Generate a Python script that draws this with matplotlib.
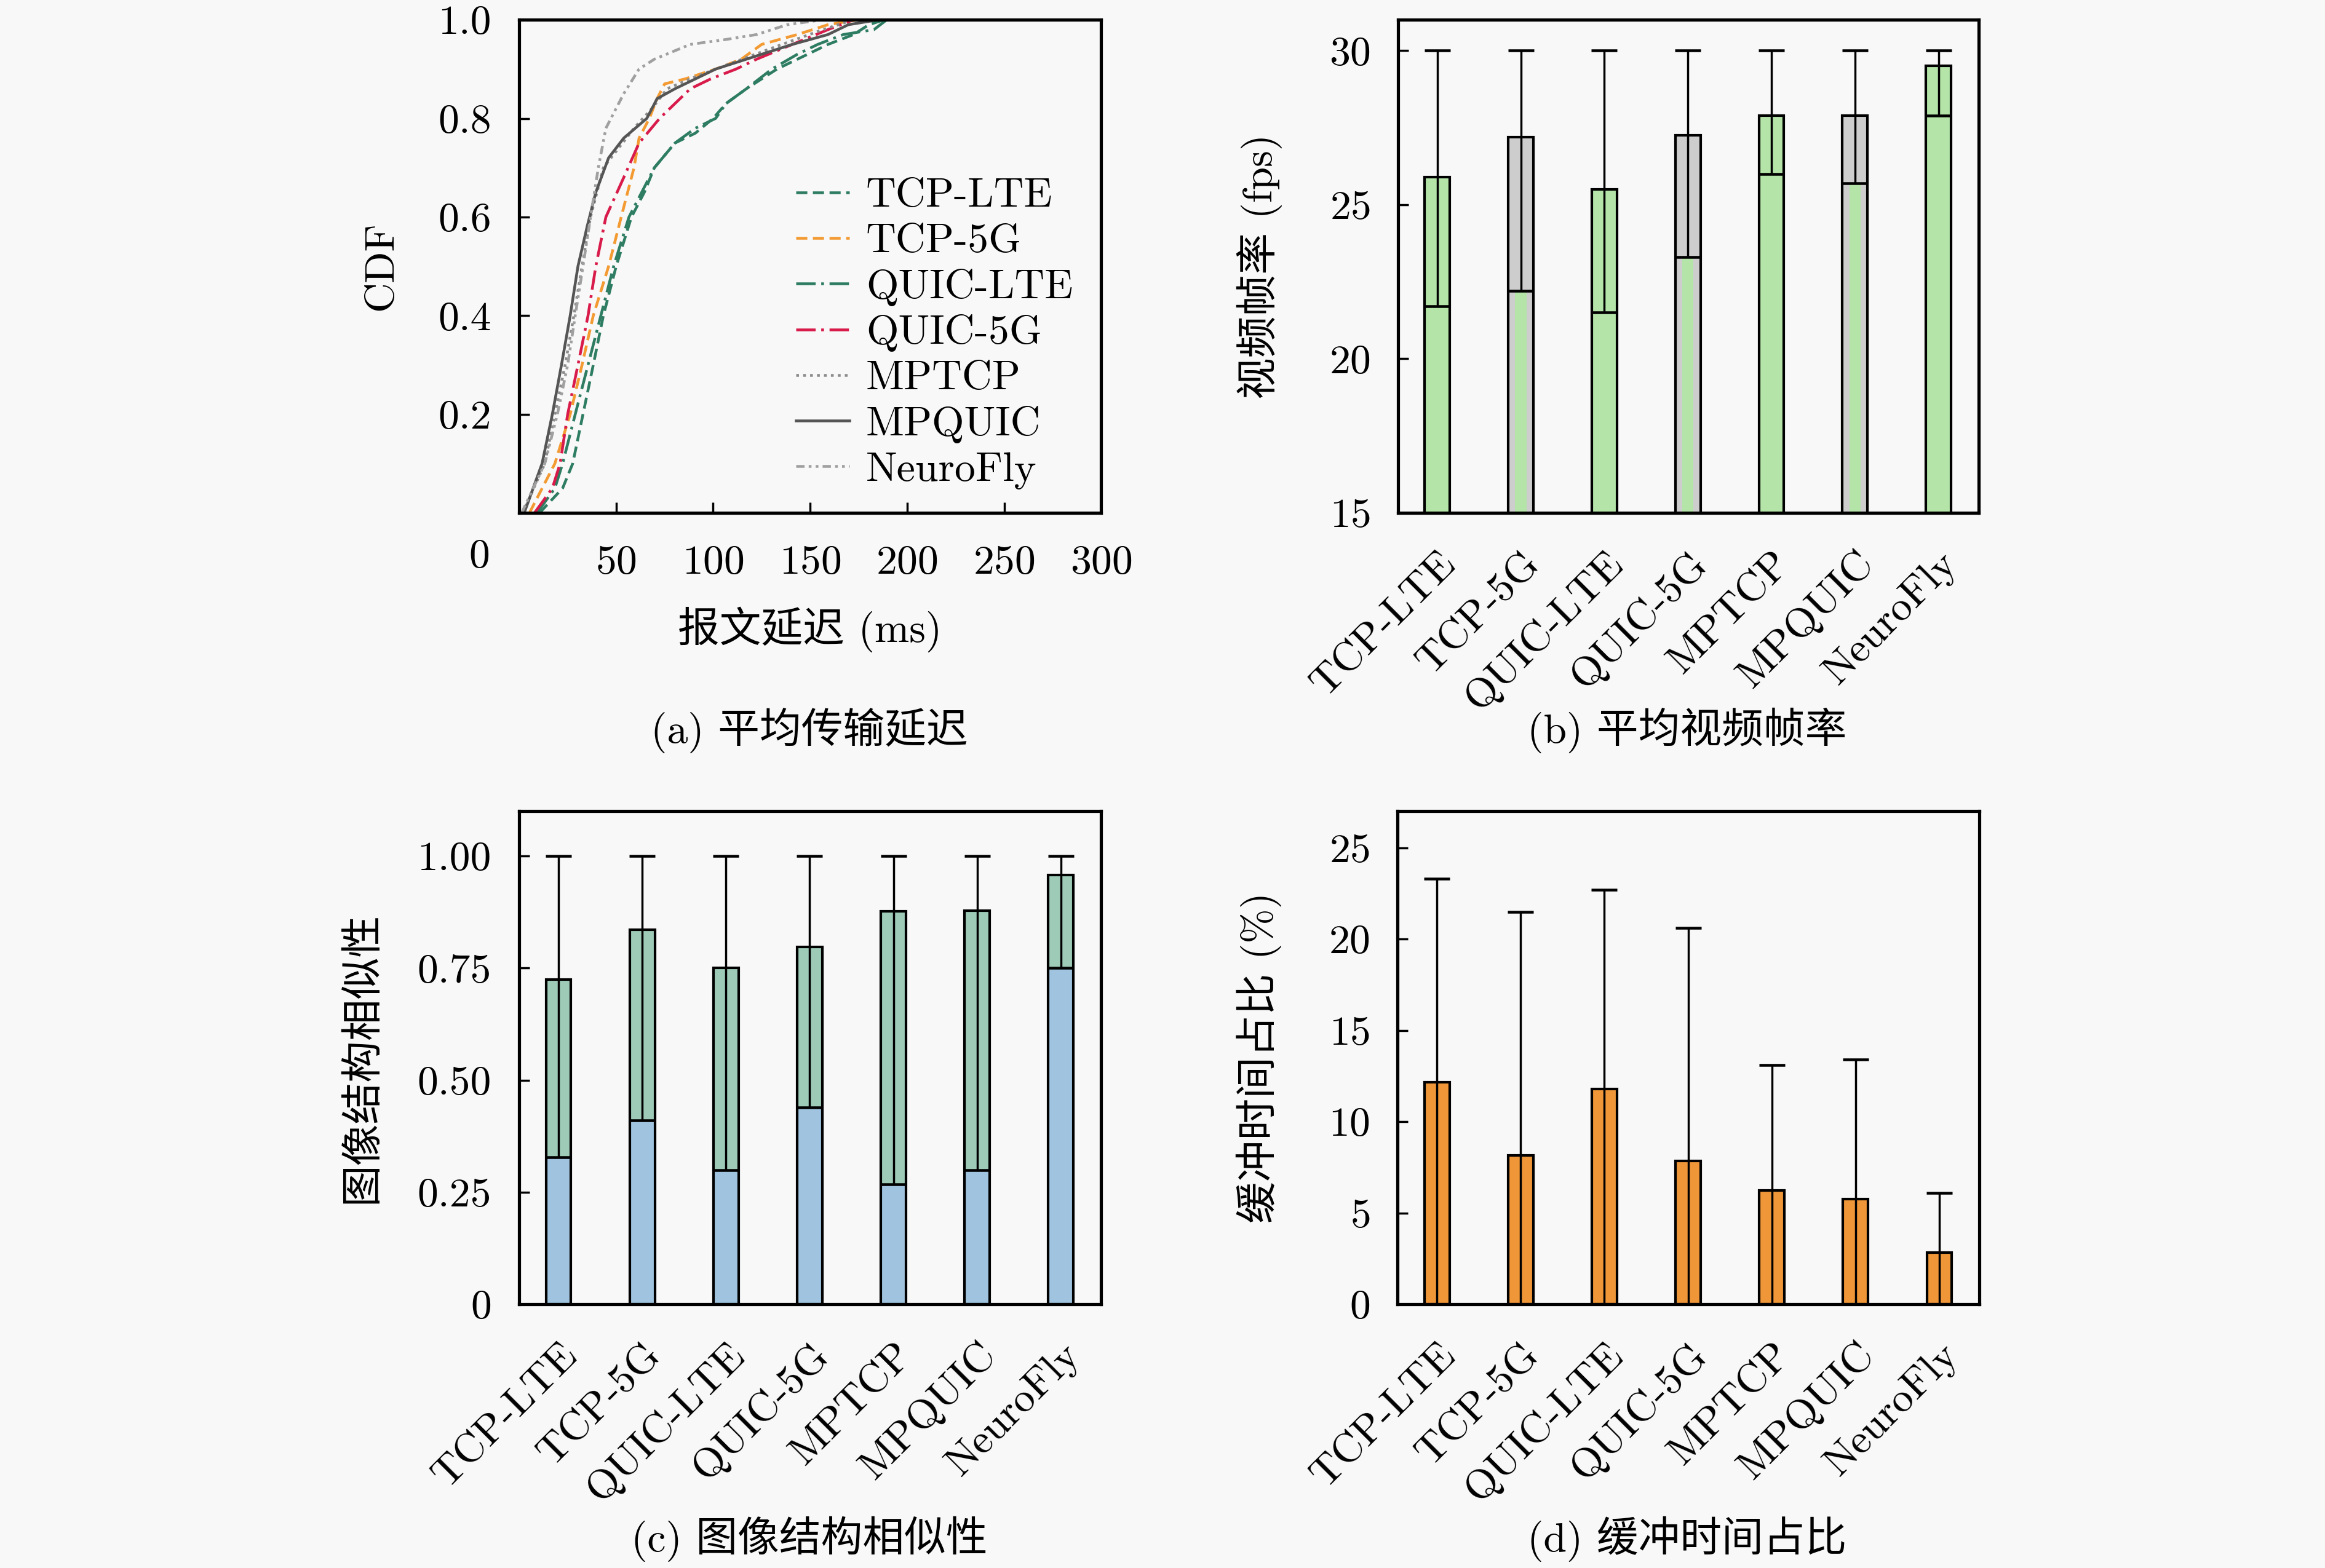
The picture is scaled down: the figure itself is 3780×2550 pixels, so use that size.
import numpy as np
import matplotlib
matplotlib.use("Agg")
import matplotlib.pyplot as plt

plt.rcParams["font.family"] = ["cmr10", "Noto Sans CJK SC"]
plt.rcParams["mathtext.fontset"] = "cm"
plt.rcParams["axes.unicode_minus"] = False
plt.rcParams["axes.formatter.use_mathtext"] = True
plt.rcParams["font.size"] = 19.5

FS = 19.5
BG = "#f8f8f8"
GREEN = "#b4e4a8"
GRAY = "#cdcdcd"
TEAL = "#9ecbb8"
BLUE = "#a0c4df"
ORANGE = "#ee9638"

methods = ["TCP-LTE", "TCP-5G", "QUIC-LTE", "QUIC-5G", "MPTCP", "MPQUIC", "NeuroFly"]

# (a) latency CDF
tcp_lte_ms = [10.5, 22.4, 27.6, 32.9, 38.2, 43.4, 50.0, 57.9, 64.5, 69.7, 80.3, 90.8, 100.0,
              106.6, 117.1, 125.0, 132.9, 148.7, 159.2, 172.4, 180.3, 188.2, 300]
tcp_lte_cdf = [0, 0.05, 0.1, 0.2, 0.3, 0.4, 0.5, 0.6, 0.65, 0.7, 0.75, 0.77, 0.8,
               0.83, 0.86, 0.88, 0.9, 0.93, 0.95, 0.97, 0.99, 1.0, 1.0]
tcp_5g_ms = [5.3, 18.4, 26.3, 32.4, 38.2, 46.1, 52.6, 59.2, 61.8, 67.1, 71.1, 75.0, 85.5,
             101.3, 114.5, 125.0, 143.4, 159.2, 175.0, 300]
tcp_5g_cdf = [0, 0.1, 0.2, 0.3, 0.4, 0.5, 0.6, 0.7, 0.76, 0.8, 0.84, 0.87, 0.88,
              0.9, 0.92, 0.95, 0.97, 0.99, 1.0, 1.0]
quic_lte_ms = [9.2, 18.4, 22.4, 28.9, 35.5, 42.1, 48.7, 56.6, 69.7, 80.3, 90.8, 101.3, 106.6,
               117.1, 130.3, 143.4, 153.9, 167.1, 182.9, 189.5, 300]
quic_lte_cdf = [0, 0.05, 0.1, 0.2, 0.3, 0.4, 0.5, 0.6, 0.7, 0.75, 0.78, 0.8, 0.83,
                0.86, 0.9, 0.93, 0.95, 0.97, 0.98, 1.0, 1.0]
quic_5g_ms = [7.9, 17.1, 21.1, 25.0, 30.3, 35.5, 39.5, 44.7, 53.9, 61.8, 72.4, 80.3, 88.2,
              98.7, 111.8, 122.4, 140.8, 159.2, 172.4, 300]
quic_5g_cdf = [0, 0.05, 0.1, 0.2, 0.3, 0.4, 0.5, 0.6, 0.68, 0.75, 0.8, 0.83, 0.86,
               0.88, 0.9, 0.92, 0.95, 0.98, 1.0, 1.0]
mptcp_ms = [1.8, 13.2, 18.4, 23.7, 28.2, 32.4, 36.8, 43.4, 59.2, 68.4, 76.3, 88.2, 101.3,
            135.5, 156.6, 172.4, 300]
mptcp_cdf = [0, 0.1, 0.2, 0.3, 0.4, 0.5, 0.6, 0.7, 0.78, 0.82, 0.86, 0.88, 0.9,
             0.95, 0.98, 1.0, 1.0]
mpquic_ms = [2.6, 11.8, 17.1, 21.8, 26.3, 30.3, 35.0, 39.5, 46.1, 53.9, 65.8, 71.1, 80.3,
             90.8, 101.3, 125.0, 140.8, 159.2, 169.7, 185.5, 300]
mpquic_cdf = [0, 0.1, 0.2, 0.3, 0.4, 0.5, 0.58, 0.65, 0.72, 0.76, 0.8, 0.84, 0.86,
              0.88, 0.9, 0.93, 0.95, 0.97, 0.99, 1.0, 1.0]
neurofly_ms = [1.3, 13.2, 19.7, 25.0, 28.9, 32.9, 36.8, 40.8, 44.7, 53.9, 61.8, 69.7, 88.2,
               106.6, 122.4, 138.2, 156.6, 300]
neurofly_cdf = [0, 0.1, 0.2, 0.3, 0.4, 0.5, 0.6, 0.7, 0.78, 0.85, 0.9, 0.92, 0.95,
                0.96, 0.97, 0.99, 1.0, 1.0]

# (b) video frame rate (fps)
fps_bar = [25.9, 27.2, 25.5, 27.25, 27.9, 27.9, 29.5]
fps_low = [21.7, 22.2, 21.5, 23.3, 26.0, 25.7, 27.9]
fps_high = [30, 30, 30, 30, 30, 30, 30]

# (c) SSIM
ssim_bar = [0.725, 0.836, 0.751, 0.797, 0.876, 0.878, 0.958]
ssim_low = [0.328, 0.41, 0.299, 0.439, 0.268, 0.299, 0.75]
ssim_high = [1.0, 1.0, 1.0, 1.0, 1.0, 1.0, 1.0]

# (d) rebuffering ratio (%)
buf_bar = [12.15, 8.15, 11.77, 7.86, 6.24, 5.76, 2.84]
buf_high = [23.3, 21.48, 22.68, 20.6, 13.1, 13.39, 6.09]

fig = plt.figure(figsize=(15.12, 10.2), dpi=250, facecolor=BG)


def style_axes(ax):
    ax.set_facecolor(BG)
    for s in ax.spines.values():
        s.set_linewidth(1.5)
    ax.tick_params(direction="in", length=5, width=1.0, labelsize=FS)
    ax.tick_params(axis="y", pad=13)
    ax.tick_params(axis="x", pad=15)


def rotate_labels(ax):
    for lab in ax.get_xticklabels():
        lab.set_rotation(45)
        lab.set_ha("right")
        lab.set_va("top")
        lab.set_rotation_mode("anchor")


def split_bars(ax, bar, low, high, top_colors, low_color):
    x = np.arange(len(methods))
    w = 0.3
    bar = np.array(bar)
    low = np.array(low)
    high = np.array(high)
    ax.bar(x, bar, w, color=top_colors, linewidth=0, zorder=2)
    # the lower part shows through narrower where the upper colour differs
    widths = [w if c == low_color or c == TEAL else w * 0.45 for c in top_colors]
    ax.bar(x, low, widths, color=low_color, linewidth=0, zorder=2.2)
    ax.bar(x, bar, w, color="none", edgecolor="black", linewidth=1.2, zorder=2.5)
    ax.errorbar(x, low, yerr=[np.zeros(len(x)), high - low], fmt="none", ecolor="black",
                elinewidth=1.0, capsize=6, capthick=1.3, zorder=3)
    ax.set_xticks(x)
    ax.set_xticklabels(methods)
    ax.set_xlim(-0.47, 6.48)


# (a)
ax_a = fig.add_axes([0.2233, 0.6729, 0.2503, 0.3145])
style_axes(ax_a)
series = [
    (tcp_lte_ms, tcp_lte_cdf, "TCP-LTE", "#2e7d62", (0, (4, 2))),
    (tcp_5g_ms, tcp_5g_cdf, "TCP-5G", "#f39a32", (0, (4, 2))),
    (quic_lte_ms, quic_lte_cdf, "QUIC-LTE", "#2e7d62", (0, (7, 2, 1, 2))),
    (quic_5g_ms, quic_5g_cdf, "QUIC-5G", "#d81b4a", (0, (7, 2, 1, 2))),
    (mptcp_ms, mptcp_cdf, "MPTCP", "#8c8c8c", (0, (1, 1.5))),
    (mpquic_ms, mpquic_cdf, "MPQUIC", "#555555", "-"),
    (neurofly_ms, neurofly_cdf, "NeuroFly", "#a0a0a0", (0, (3, 1.5, 1, 1.5, 1, 1.5))),
]
for ms, cdf, name, color, ls in series:
    ax_a.plot(ms, cdf, color=color, linestyle=ls, linewidth=1.3, label=name)
ax_a.set_xlim(0, 300)
ax_a.set_ylim(0, 1)
ax_a.set_xticks([50, 100, 150, 200, 250, 300])
ax_a.set_yticks([0.2, 0.4, 0.6, 0.8, 1.0])
ax_a.set_yticklabels(["0.2", "0.4", "0.6", "0.8", "1.0"])
ax_a.text(-0.068, -0.09, "0", transform=ax_a.transAxes, ha="center", va="center", fontsize=FS)
ax_a.set_xlabel("报文延迟 (ms)", fontsize=FS)
ax_a.xaxis.set_label_coords(0.5, -0.19)
ax_a.set_ylabel("CDF", fontsize=FS)
ax_a.yaxis.set_label_coords(-0.205, 0.5)
ax_a.legend(loc="upper left", bbox_to_anchor=(0.44, 0.722), frameon=False, borderpad=0,
            handlelength=1.28, handletextpad=0.4, labelspacing=0.2, fontsize=FS)

# (b)
ax_b = fig.add_axes([0.6013, 0.6729, 0.2497, 0.3145])
style_axes(ax_b)
split_bars(ax_b, fps_bar, fps_low, fps_high,
           [GREEN, GRAY, GREEN, GRAY, GREEN, GRAY, GREEN], GREEN)
ax_b.set_ylim(15, 31)
ax_b.set_yticks([15, 20, 25, 30])
ax_b.set_ylabel("视频帧率 (fps)", fontsize=FS)
ax_b.yaxis.set_label_coords(-0.199, 0.5)
rotate_labels(ax_b)

# (c)
ax_c = fig.add_axes([0.2233, 0.1682, 0.2503, 0.3145])
style_axes(ax_c)
split_bars(ax_c, ssim_bar, ssim_low, ssim_high, [TEAL] * 7, BLUE)
ax_c.set_ylim(0, 1.1)
ax_c.set_yticks([0, 0.25, 0.5, 0.75, 1.0])
ax_c.set_yticklabels(["0", "0.25", "0.50", "0.75", "1.00"])
ax_c.set_ylabel("图像结构相似性", fontsize=FS)
ax_c.yaxis.set_label_coords(-0.237, 0.5)
rotate_labels(ax_c)

# (d)
ax_d = fig.add_axes([0.6011, 0.1682, 0.2503, 0.3145])
style_axes(ax_d)
x = np.arange(len(methods))
bb = np.array(buf_bar)
bh = np.array(buf_high)
ax_d.bar(x, bb, 0.3, color=ORANGE, edgecolor="black", linewidth=1.2, zorder=2)
ax_d.errorbar(x, bb, yerr=[bb, bh - bb], fmt="none", ecolor="black",
              elinewidth=1.0, capsize=6, capthick=1.3, zorder=3)
ax_d.set_xticks(x)
ax_d.set_xticklabels(methods)
ax_d.set_xlim(-0.47, 6.48)
ax_d.set_ylim(0, 27)
ax_d.set_yticks([0, 5, 10, 15, 20, 25])
ax_d.set_ylabel("缓冲时间占比 (%)", fontsize=FS)
ax_d.yaxis.set_label_coords(-0.199, 0.5)
rotate_labels(ax_d)

# captions
fig.text(0.348, 0.534, "(a) 平均传输延迟", ha="center", va="center", fontsize=FS)
fig.text(0.7257, 0.534, "(b) 平均视频帧率", ha="center", va="center", fontsize=FS)
fig.text(0.348, 0.0185, "(c) 图像结构相似性", ha="center", va="center", fontsize=FS)
fig.text(0.7257, 0.0185, "(d) 缓冲时间占比", ha="center", va="center", fontsize=FS)

fig.savefig("out.png", dpi=250, facecolor=BG)
